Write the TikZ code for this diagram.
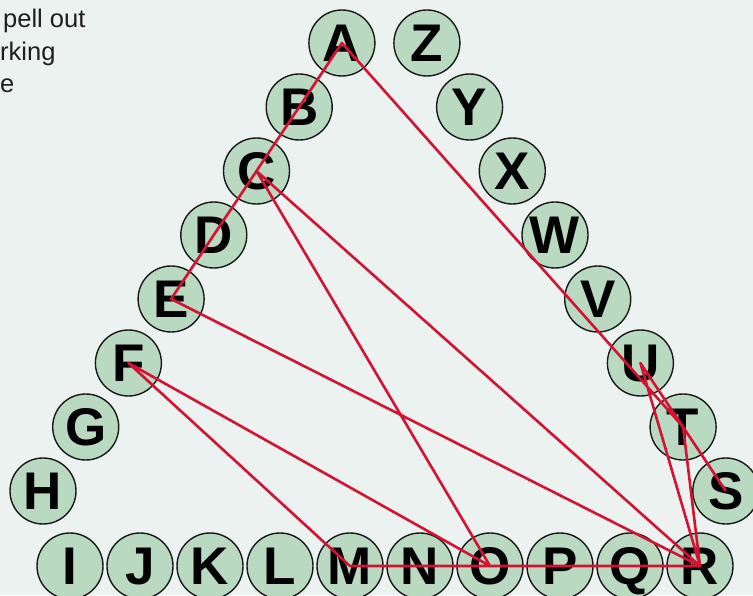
\documentclass[tikz,border=0pt]{standalone}
\usepackage{fontspec}
\setmainfont{Liberation Sans}
\usepackage{tikz}
\usetikzlibrary{positioning}
\definecolor{bgcol}{RGB}{236,242,240}
\definecolor{ballfill}{RGB}{185,217,193}
\definecolor{trace}{RGB}{214,18,52}
\definecolor{ink}{RGB}{30,30,30}

\begin{document}
\begin{tikzpicture}[x=1pt, y=1pt, node distance=70pt, on grid, inner sep=0pt, minimum size=66pt]
    \tikzstyle{ball}=[circle, fill=ballfill, draw=black!90, line width=1.4pt,
      font=\bfseries\fontsize{53}{53}\selectfont, text height=37pt, text depth=0pt]
    \tikzstyle{route}=[draw=trace, line width=2.6pt, line join=round]
    \tikzstyle{note}=[anchor=base west, minimum size=0pt, text=ink,
      font=\fontsize{25.5}{25.5}\selectfont]

    \fill[bgcol] (0,0) rectangle (753,595);
    \useasboundingbox (0,0) rectangle (753,595);

    \node[note] (t1) at (3,567) {pell out};
    \node[note] (t2) at (0,534) {rking};
    \node[note] (t3) at (0,502) {e};

    % bottom row
    \node[ball] (I) at (70,29) {I};
    \node[ball] (J) [right=of I] {J};
    \node[ball] (K) [right=of J] {K};
    \node[ball] (L) [right=of K] {L};
    \node[ball] (M) [right=of L] {M};
    \node[ball] (N) [right=of M] {N};
    \node[ball] (O) [right=of N] {O};
    \node[ball] (P) [right=of O] {P};
    \node[ball] (Q) [right=of P] {Q};
    \node[ball] (R) [right=of Q] {R};

    % left side
    \node[ball] (H) [above left=75pt and 27pt of I] {H};
    \node[ball] (G) [above right=64pt and 42.7pt of H] {G};
    \node[ball] (F) [above right=64pt and 42.7pt of G] {F};
    \node[ball] (E) [above right=64pt and 42.7pt of F] {E};
    \node[ball] (D) [above right=64pt and 42.7pt of E] {D};
    \node[ball] (C) [above right=64pt and 42.7pt of D] {C};
    \node[ball] (B) [above right=64pt and 42.7pt of C] {B};
    \node[ball] (A) [above right=64pt and 42.7pt of B] {A};

    % right side
    \node[ball] (Z) [right=85pt of A] {Z};
    \node[ball] (Y) [below right=64pt and 42.7pt of Z] {Y};
    \node[ball] (X) [below right=64pt and 42.7pt of Y] {X};
    \node[ball] (W) [below right=64pt and 42.7pt of X] {W};
    \node[ball] (V) [below right=64pt and 42.7pt of W] {V};
    \node[ball] (U) [below right=64pt and 42.7pt of V] {U};
    \node[ball] (T) [below right=64pt and 42.7pt of U] {T};
    \node[ball] (S) [below right=64pt and 42.7pt of T] {S};

    % the route through the letters
    \draw[route] (C.center) -- (R.center) -- (E.center) -- (A.center)
      -- (T.center) -- (U.center) -- (R.center) -- (E.center) -- (C.center)
      -- (O.center) -- (M.center) -- (F.center) -- (O.center) -- (R.center)
      -- (T.center) -- (S.center);
\end{tikzpicture}
\end{document}
